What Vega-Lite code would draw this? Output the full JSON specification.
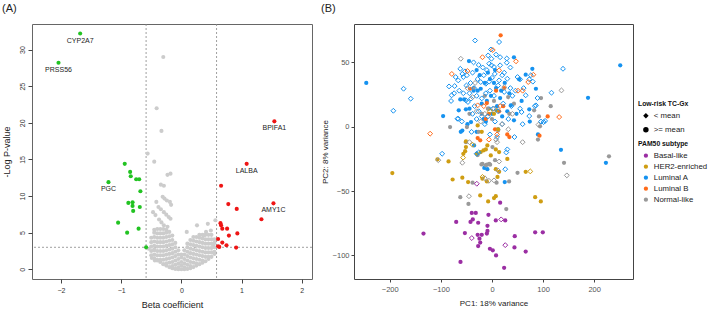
{
"$schema": "https://vega.github.io/schema/vega-lite/v6.json",
"padding": {"left": 1, "top": 2, "right": 0, "bottom": 0},
"spacing": 7,
"config": {
 "font": "Liberation Sans",
 "view": {"stroke": "#555", "strokeWidth": 1},
 "axis": {"grid": false, "domain": false, "tickColor": "#444", "labelColor": "#333", "titleColor": "#222", "titleFontWeight": "normal"},
 "title": {"fontWeight": "normal", "fontSize": 11, "anchor": "start", "frame": "bounds", "color": "#222", "offset": 10},
 "legend": {"titleFontSize": 6.8, "titleFontWeight": "bold", "titleColor": "#111", "labelFontSize": 7.8, "labelColor": "#222", "rowPadding": 2, "titlePadding": 4, "padding": 0, "labelOffset": 4, "symbolOffset": 4}
},
"resolve": {"scale": {"color": "independent", "shape": "independent"}, "legend": {"color": "independent", "shape": "independent"}},
"datasets": {
 "volcano": [
  {"b":-0.50,"p":1.9,"s":"ns"},{"b":-0.50,"p":2.5,"s":"ns"},{"b":-0.50,"p":3.1,"s":"ns"},{"b":-0.50,"p":3.7,"s":"ns"},{"b":-0.50,"p":4.3,"s":"ns"},
  {"b":-0.45,"p":1.5,"s":"ns"},{"b":-0.45,"p":2.0,"s":"ns"},{"b":-0.45,"p":2.6,"s":"ns"},{"b":-0.45,"p":3.2,"s":"ns"},{"b":-0.45,"p":3.8,"s":"ns"},{"b":-0.45,"p":4.4,"s":"ns"},{"b":-0.45,"p":5.0,"s":"ns"},{"b":-0.45,"p":5.4,"s":"ns"},
  {"b":-0.40,"p":1.3,"s":"ns"},{"b":-0.40,"p":1.9,"s":"ns"},{"b":-0.40,"p":2.5,"s":"ns"},{"b":-0.40,"p":3.1,"s":"ns"},{"b":-0.40,"p":3.7,"s":"ns"},{"b":-0.40,"p":4.3,"s":"ns"},{"b":-0.40,"p":4.9,"s":"ns"},{"b":-0.40,"p":5.5,"s":"ns"},
  {"b":-0.35,"p":1.0,"s":"ns"},{"b":-0.35,"p":1.3,"s":"ns"},{"b":-0.35,"p":1.9,"s":"ns"},{"b":-0.35,"p":2.5,"s":"ns"},{"b":-0.35,"p":3.1,"s":"ns"},{"b":-0.35,"p":3.7,"s":"ns"},{"b":-0.35,"p":4.3,"s":"ns"},{"b":-0.35,"p":4.9,"s":"ns"},{"b":-0.35,"p":5.5,"s":"ns"},
  {"b":-0.30,"p":0.7,"s":"ns"},{"b":-0.30,"p":1.3,"s":"ns"},{"b":-0.30,"p":1.9,"s":"ns"},{"b":-0.30,"p":2.5,"s":"ns"},{"b":-0.30,"p":3.1,"s":"ns"},{"b":-0.30,"p":3.7,"s":"ns"},{"b":-0.30,"p":4.3,"s":"ns"},{"b":-0.30,"p":4.9,"s":"ns"},{"b":-0.30,"p":5.5,"s":"ns"},
  {"b":-0.25,"p":0.5,"s":"ns"},{"b":-0.25,"p":0.8,"s":"ns"},{"b":-0.25,"p":1.4,"s":"ns"},{"b":-0.25,"p":2.0,"s":"ns"},{"b":-0.25,"p":2.6,"s":"ns"},{"b":-0.25,"p":3.2,"s":"ns"},{"b":-0.25,"p":3.8,"s":"ns"},{"b":-0.25,"p":4.4,"s":"ns"},{"b":-0.25,"p":5.0,"s":"ns"},{"b":-0.25,"p":5.4,"s":"ns"},
  {"b":-0.20,"p":0.3,"s":"ns"},{"b":-0.20,"p":0.9,"s":"ns"},{"b":-0.20,"p":1.5,"s":"ns"},{"b":-0.20,"p":2.1,"s":"ns"},{"b":-0.20,"p":2.7,"s":"ns"},{"b":-0.20,"p":3.3,"s":"ns"},{"b":-0.20,"p":3.9,"s":"ns"},{"b":-0.20,"p":4.5,"s":"ns"},{"b":-0.20,"p":5.1,"s":"ns"},
  {"b":-0.15,"p":0.15,"s":"ns"},{"b":-0.15,"p":0.45,"s":"ns"},{"b":-0.15,"p":1.0,"s":"ns"},{"b":-0.15,"p":1.6,"s":"ns"},{"b":-0.15,"p":2.2,"s":"ns"},{"b":-0.15,"p":2.8,"s":"ns"},{"b":-0.15,"p":3.4,"s":"ns"},{"b":-0.15,"p":4.0,"s":"ns"},{"b":-0.15,"p":4.6,"s":"ns"},
  {"b":-0.10,"p":0.05,"s":"ns"},{"b":-0.10,"p":0.6,"s":"ns"},{"b":-0.10,"p":1.2,"s":"ns"},{"b":-0.10,"p":1.8,"s":"ns"},{"b":-0.10,"p":2.4,"s":"ns"},{"b":-0.10,"p":3.0,"s":"ns"},{"b":-0.10,"p":3.6,"s":"ns"},
  {"b":-0.05,"p":0.0,"s":"ns"},{"b":-0.05,"p":0.25,"s":"ns"},{"b":-0.05,"p":0.8,"s":"ns"},{"b":-0.05,"p":1.4,"s":"ns"},{"b":-0.05,"p":2.0,"s":"ns"},{"b":-0.05,"p":2.6,"s":"ns"},
  {"b":0.0,"p":0.0,"s":"ns"},{"b":0.0,"p":0.5,"s":"ns"},{"b":0.0,"p":1.0,"s":"ns"},{"b":0.0,"p":1.6,"s":"ns"},{"b":0.0,"p":2.0,"s":"ns"},
  {"b":0.05,"p":0.0,"s":"ns"},{"b":0.05,"p":0.25,"s":"ns"},{"b":0.05,"p":0.8,"s":"ns"},{"b":0.05,"p":1.4,"s":"ns"},{"b":0.05,"p":2.0,"s":"ns"},{"b":0.05,"p":2.6,"s":"ns"},
  {"b":0.10,"p":0.05,"s":"ns"},{"b":0.10,"p":0.6,"s":"ns"},{"b":0.10,"p":1.2,"s":"ns"},{"b":0.10,"p":1.8,"s":"ns"},{"b":0.10,"p":2.4,"s":"ns"},{"b":0.10,"p":3.0,"s":"ns"},{"b":0.10,"p":3.5,"s":"ns"},
  {"b":0.15,"p":0.15,"s":"ns"},{"b":0.15,"p":0.45,"s":"ns"},{"b":0.15,"p":1.0,"s":"ns"},{"b":0.15,"p":1.6,"s":"ns"},{"b":0.15,"p":2.2,"s":"ns"},{"b":0.15,"p":2.8,"s":"ns"},{"b":0.15,"p":3.4,"s":"ns"},{"b":0.15,"p":4.0,"s":"ns"},
  {"b":0.20,"p":0.3,"s":"ns"},{"b":0.20,"p":0.9,"s":"ns"},{"b":0.20,"p":1.5,"s":"ns"},{"b":0.20,"p":2.1,"s":"ns"},{"b":0.20,"p":2.7,"s":"ns"},{"b":0.20,"p":3.3,"s":"ns"},{"b":0.20,"p":3.9,"s":"ns"},{"b":0.20,"p":4.4,"s":"ns"},
  {"b":0.25,"p":0.5,"s":"ns"},{"b":0.25,"p":0.8,"s":"ns"},{"b":0.25,"p":1.4,"s":"ns"},{"b":0.25,"p":2.0,"s":"ns"},{"b":0.25,"p":2.6,"s":"ns"},{"b":0.25,"p":3.2,"s":"ns"},{"b":0.25,"p":3.8,"s":"ns"},{"b":0.25,"p":4.4,"s":"ns"},
  {"b":0.30,"p":0.7,"s":"ns"},{"b":0.30,"p":1.3,"s":"ns"},{"b":0.30,"p":1.9,"s":"ns"},{"b":0.30,"p":2.5,"s":"ns"},{"b":0.30,"p":3.1,"s":"ns"},{"b":0.30,"p":3.7,"s":"ns"},{"b":0.30,"p":4.3,"s":"ns"},{"b":0.30,"p":4.7,"s":"ns"},
  {"b":0.35,"p":0.9,"s":"ns"},{"b":0.35,"p":1.2,"s":"ns"},{"b":0.35,"p":1.8,"s":"ns"},{"b":0.35,"p":2.4,"s":"ns"},{"b":0.35,"p":3.0,"s":"ns"},{"b":0.35,"p":3.6,"s":"ns"},{"b":0.35,"p":4.2,"s":"ns"},{"b":0.35,"p":4.7,"s":"ns"},
  {"b":0.40,"p":1.1,"s":"ns"},{"b":0.40,"p":1.7,"s":"ns"},{"b":0.40,"p":2.3,"s":"ns"},{"b":0.40,"p":2.9,"s":"ns"},{"b":0.40,"p":3.5,"s":"ns"},{"b":0.40,"p":4.1,"s":"ns"},{"b":0.40,"p":4.7,"s":"ns"},
  {"b":0.45,"p":1.4,"s":"ns"},{"b":0.45,"p":1.7,"s":"ns"},{"b":0.45,"p":2.3,"s":"ns"},{"b":0.45,"p":2.9,"s":"ns"},{"b":0.45,"p":3.5,"s":"ns"},{"b":0.45,"p":4.1,"s":"ns"},{"b":0.45,"p":4.7,"s":"ns"},
  {"b":0.50,"p":1.7,"s":"ns"},{"b":0.50,"p":2.3,"s":"ns"},{"b":0.50,"p":2.9,"s":"ns"},{"b":0.50,"p":3.5,"s":"ns"},{"b":0.50,"p":4.1,"s":"ns"},{"b":0.50,"p":4.7,"s":"ns"},
  {"b":0.55,"p":2.1,"s":"ns"},{"b":0.55,"p":2.4,"s":"ns"},{"b":0.55,"p":3.0,"s":"ns"},{"b":0.55,"p":3.6,"s":"ns"},{"b":0.55,"p":4.1,"s":"ns"},
  {"b":-0.30,"p":29.0,"s":"ns"},{"b":-0.41,"p":22.0,"s":"ns"},{"b":-0.33,"p":18.9,"s":"ns"},{"b":-0.56,"p":15.8,"s":"ns"},{"b":-0.45,"p":14.7,"s":"ns"},
  {"b":-0.23,"p":12.9,"s":"ns"},{"b":-0.18,"p":13.06,"s":"ns"},{"b":-0.34,"p":11.56,"s":"ns"},{"b":-0.29,"p":11.4,"s":"ns"},{"b":-0.31,"p":9.9,"s":"ns"},
  {"b":-0.28,"p":9.65,"s":"ns"},{"b":-0.24,"p":9.4,"s":"ns"},{"b":-0.19,"p":9.2,"s":"ns"},{"b":-0.17,"p":8.8,"s":"ns"},{"b":-0.415,"p":9.2,"s":"ns"},
  {"b":-0.38,"p":8.5,"s":"ns"},{"b":-0.34,"p":8.2,"s":"ns"},{"b":-0.29,"p":7.8,"s":"ns"},{"b":-0.25,"p":7.46,"s":"ns"},{"b":-0.21,"p":7.14,"s":"ns"},
  {"b":-0.18,"p":6.9,"s":"ns"},{"b":-0.47,"p":7.8,"s":"ns"},{"b":-0.43,"p":7.4,"s":"ns"},{"b":-0.37,"p":6.8,"s":"ns"},{"b":-0.33,"p":6.4,"s":"ns"},
  {"b":-0.29,"p":6.0,"s":"ns"},{"b":-0.23,"p":5.8,"s":"ns"},{"b":0.26,"p":6.0,"s":"ns"},{"b":0.44,"p":6.2,"s":"ns"},{"b":0.565,"p":6.7,"s":"ns"},
  {"b":0.49,"p":5.3,"s":"ns"},{"b":0.41,"p":5.1,"s":"ns"},{"b":-0.49,"p":1.54,"s":"ns"},{"b":-0.40,"p":1.2,"s":"ns"},{"b":-0.54,"p":2.8,"s":"ns"},
  {"b":-0.45,"p":2.7,"s":"ns"},{"b":0.53,"p":3.3,"s":"ns"},{"b":-0.44,"p":1.2,"s":"ns"},{"b":0.09,"p":5.1,"s":"ns"},{"b":0.37,"p":4.6,"s":"ns"},
  {"b":-1.68,"p":32.2,"s":"dn","lab":"CYP2A7"},{"b":-2.04,"p":28.2,"s":"dn","lab":"PRSS56"},{"b":-1.21,"p":11.9,"s":"dn","lab":"PGC"},
  {"b":-0.94,"p":14.4,"s":"dn"},{"b":-0.85,"p":13.3,"s":"dn"},{"b":-0.84,"p":12.7,"s":"dn"},{"b":-0.75,"p":12.3,"s":"dn"},{"b":-0.70,"p":12.3,"s":"dn"},
  {"b":-0.68,"p":10.65,"s":"dn"},{"b":-0.88,"p":9.06,"s":"dn"},{"b":-0.81,"p":9.15,"s":"dn"},{"b":-0.81,"p":8.65,"s":"dn"},{"b":-0.80,"p":7.97,"s":"dn"},
  {"b":-0.69,"p":8.5,"s":"dn"},{"b":-1.05,"p":6.37,"s":"dn"},{"b":-0.71,"p":5.55,"s":"dn"},{"b":-0.90,"p":5.0,"s":"dn"},{"b":-0.585,"p":3.0,"s":"dn"},
  {"b":1.545,"p":20.2,"s":"up","lab":"BPIFA1"},{"b":1.085,"p":14.4,"s":"up","lab":"LALBA"},{"b":1.53,"p":9.0,"s":"up","lab":"AMY1C"},
  {"b":1.33,"p":6.83,"s":"up"},{"b":0.66,"p":11.4,"s":"up"},{"b":0.78,"p":8.9,"s":"up"},{"b":0.92,"p":8.24,"s":"up"},{"b":0.65,"p":6.3,"s":"up"},
  {"b":0.66,"p":6.0,"s":"up"},{"b":0.68,"p":5.55,"s":"up"},{"b":0.76,"p":5.55,"s":"up"},{"b":0.93,"p":4.9,"s":"up"},{"b":0.79,"p":4.6,"s":"up"},
  {"b":0.61,"p":4.14,"s":"up"},{"b":0.68,"p":3.64,"s":"up"},{"b":0.75,"p":3.28,"s":"up"},{"b":0.61,"p":3.14,"s":"up"},{"b":0.91,"p":2.96,"s":"up"},{"b":0.63,"p":3.05,"s":"up"}
 ],
 "cut": [{"b": -0.585}, {"b": 0.585}],
 "cutp": [{"p": 3}],
 "pca": [
  {"x":-246,"y":34,"t":"Luminal A","r":">= mean"},{"x":251,"y":47.7,"t":"Luminal A","r":">= mean"},{"x":188,"y":22.5,"t":"Luminal A","r":">= mean"},{"x":135,"y":-17.9,"t":"Luminal A","r":">= mean"},{"x":223,"y":-28,"t":"Luminal A","r":">= mean"},
  {"x":43,"y":53.9,"t":"Luminal A","r":">= mean"},{"x":-45,"y":51,"t":"Luminal A","r":">= mean"},{"x":79,"y":45,"t":"Luminal A","r":">= mean"},{"x":66,"y":40.4,"t":"Luminal A","r":">= mean"},{"x":86,"y":29.5,"t":"Luminal A","r":">= mean"},
  {"x":53,"y":36.8,"t":"Luminal A","r":">= mean"},{"x":37,"y":16.6,"t":"Luminal A","r":">= mean"},{"x":73,"y":13.5,"t":"Luminal A","r":">= mean"},{"x":16,"y":22.3,"t":"Luminal A","r":">= mean"},{"x":43,"y":5,"t":"Luminal A","r":">= mean"},
  {"x":-95.6,"y":8.3,"t":"Luminal A","r":">= mean"},{"x":-65,"y":12.7,"t":"Luminal A","r":">= mean"},{"x":-54.5,"y":21.2,"t":"Luminal A","r":">= mean"},{"x":-62,"y":21.2,"t":"Luminal A","r":">= mean"},{"x":-51,"y":13.5,"t":"Luminal A","r":">= mean"},
  {"x":-22,"y":29.5,"t":"Luminal A","r":">= mean"},{"x":-41,"y":3.6,"t":"Luminal A","r":">= mean"},{"x":-61,"y":-4,"t":"Luminal A","r":">= mean"},{"x":-58,"y":-3,"t":"Luminal A","r":">= mean"},{"x":-35,"y":-14.5,"t":"Luminal A","r":">= mean"},
  {"x":-15,"y":-32,"t":"Luminal A","r":">= mean"},{"x":-9,"y":-33,"t":"Luminal A","r":">= mean"},{"x":25,"y":-43,"t":"Luminal A","r":">= mean"},{"x":-24,"y":40,"t":"Luminal A","r":">= mean"},{"x":-14,"y":34,"t":"Luminal A","r":">= mean"},
  {"x":-4,"y":37,"t":"Luminal A","r":">= mean"},{"x":8,"y":30,"t":"Luminal A","r":">= mean"},{"x":-10,"y":20,"t":"Luminal A","r":">= mean"},{"x":-20,"y":18,"t":"Luminal A","r":">= mean"},{"x":-28,"y":28,"t":"Luminal A","r":">= mean"},
  {"x":-16,"y":6,"t":"Luminal A","r":">= mean"},{"x":0,"y":10,"t":"Luminal A","r":">= mean"},{"x":10,"y":16,"t":"Luminal A","r":">= mean"},{"x":18,"y":28,"t":"Luminal A","r":">= mean"},{"x":-2,"y":24,"t":"Luminal A","r":">= mean"},
  {"x":-6,"y":14,"t":"Luminal A","r":">= mean"},{"x":-36,"y":28,"t":"Luminal A","r":">= mean"},{"x":-44,"y":14,"t":"Luminal A","r":">= mean"},{"x":4,"y":34,"t":"Luminal A","r":">= mean"},{"x":-48,"y":2,"t":"Luminal A","r":">= mean"},
  {"x":-30,"y":-4,"t":"Luminal A","r":">= mean"},{"x":20,"y":8,"t":"Luminal A","r":">= mean"},{"x":30,"y":12,"t":"Luminal A","r":">= mean"},{"x":25,"y":34,"t":"Luminal A","r":">= mean"},{"x":6,"y":44,"t":"Luminal A","r":">= mean"},
  {"x":-8,"y":42,"t":"Luminal A","r":">= mean"},{"x":-30,"y":44,"t":"Luminal A","r":">= mean"},{"x":58,"y":20,"t":"Luminal A","r":">= mean"},{"x":48,"y":10,"t":"Luminal A","r":">= mean"},{"x":-12,"y":4,"t":"Luminal A","r":">= mean"},
  {"x":12,"y":-2,"t":"Luminal A","r":">= mean"},{"x":34,"y":26,"t":"Luminal A","r":">= mean"},{"x":74,"y":4,"t":"Luminal A","r":">= mean"},{"x":90,"y":-6,"t":"Luminal A","r":">= mean"},
  {"x":-33,"y":67,"t":"Luminal A","r":"< mean"},{"x":14,"y":65.8,"t":"Luminal A","r":"< mean"},{"x":-7.5,"y":55.4,"t":"Luminal A","r":"< mean"},{"x":-1,"y":52.8,"t":"Luminal A","r":"< mean"},{"x":16,"y":54,"t":"Luminal A","r":"< mean"},
  {"x":29,"y":53,"t":"Luminal A","r":"< mean"},{"x":29,"y":49.7,"t":"Luminal A","r":"< mean"},{"x":-5.5,"y":49,"t":"Luminal A","r":"< mean"},{"x":-1,"y":47.7,"t":"Luminal A","r":"< mean"},{"x":4,"y":46.4,"t":"Luminal A","r":"< mean"},
  {"x":16,"y":47.7,"t":"Luminal A","r":"< mean"},{"x":5.5,"y":41,"t":"Luminal A","r":"< mean"},{"x":76,"y":40,"t":"Luminal A","r":"< mean"},{"x":73,"y":36.8,"t":"Luminal A","r":"< mean"},{"x":50,"y":38.6,"t":"Luminal A","r":"< mean"},
  {"x":55,"y":36.8,"t":"Luminal A","r":"< mean"},{"x":30,"y":37.3,"t":"Luminal A","r":"< mean"},{"x":139,"y":45,"t":"Luminal A","r":"< mean"},{"x":116.5,"y":26.4,"t":"Luminal A","r":"< mean"},{"x":89,"y":22.3,"t":"Luminal A","r":"< mean"},
  {"x":66,"y":24.4,"t":"Luminal A","r":"< mean"},{"x":24,"y":27,"t":"Luminal A","r":"< mean"},{"x":55,"y":14,"t":"Luminal A","r":"< mean"},{"x":58,"y":11.4,"t":"Luminal A","r":"< mean"},{"x":86,"y":16.6,"t":"Luminal A","r":"< mean"},
  {"x":101,"y":3.6,"t":"Luminal A","r":"< mean"},{"x":104,"y":4.5,"t":"Luminal A","r":"< mean"},{"x":73,"y":8.3,"t":"Luminal A","r":"< mean"},{"x":-62,"y":45,"t":"Luminal A","r":"< mean"},{"x":-58,"y":41,"t":"Luminal A","r":"< mean"},
  {"x":-53,"y":43,"t":"Luminal A","r":"< mean"},{"x":-49,"y":40,"t":"Luminal A","r":"< mean"},{"x":-56,"y":38.6,"t":"Luminal A","r":"< mean"},{"x":-71,"y":38.6,"t":"Luminal A","r":"< mean"},{"x":-66,"y":36,"t":"Luminal A","r":"< mean"},
  {"x":-84,"y":31.3,"t":"Luminal A","r":"< mean"},{"x":-73,"y":31.6,"t":"Luminal A","r":"< mean"},{"x":-74,"y":26,"t":"Luminal A","r":"< mean"},{"x":-79,"y":24.4,"t":"Luminal A","r":"< mean"},{"x":-173,"y":29.5,"t":"Luminal A","r":"< mean"},
  {"x":-159,"y":21.8,"t":"Luminal A","r":"< mean"},{"x":-193,"y":12.4,"t":"Luminal A","r":"< mean"},{"x":-66,"y":6.2,"t":"Luminal A","r":"< mean"},{"x":-59,"y":4.1,"t":"Luminal A","r":"< mean"},{"x":-51,"y":20.5,"t":"Luminal A","r":"< mean"},
  {"x":-47,"y":19.2,"t":"Luminal A","r":"< mean"},{"x":-41,"y":21.8,"t":"Luminal A","r":"< mean"},{"x":-28,"y":37,"t":"Luminal A","r":"< mean"},{"x":-22,"y":34.7,"t":"Luminal A","r":"< mean"},{"x":-12,"y":33.4,"t":"Luminal A","r":"< mean"},
  {"x":-5.5,"y":35,"t":"Luminal A","r":"< mean"},{"x":-97.5,"y":-21,"t":"Luminal A","r":"< mean"},{"x":-67.5,"y":6.2,"t":"Luminal A","r":"< mean"},{"x":-30,"y":-21,"t":"Luminal A","r":"< mean"},{"x":-26,"y":-20,"t":"Luminal A","r":"< mean"},
  {"x":30,"y":-17.6,"t":"Luminal A","r":"< mean"},{"x":-38,"y":42,"t":"Luminal A","r":"< mean"},{"x":-42,"y":34,"t":"Luminal A","r":"< mean"},{"x":-35,"y":30,"t":"Luminal A","r":"< mean"},{"x":-30,"y":24,"t":"Luminal A","r":"< mean"},
  {"x":-20,"y":22,"t":"Luminal A","r":"< mean"},{"x":-12,"y":26,"t":"Luminal A","r":"< mean"},{"x":-4,"y":28,"t":"Luminal A","r":"< mean"},{"x":4,"y":24,"t":"Luminal A","r":"< mean"},{"x":12,"y":32,"t":"Luminal A","r":"< mean"},
  {"x":20,"y":40,"t":"Luminal A","r":"< mean"},{"x":22,"y":18,"t":"Luminal A","r":"< mean"},{"x":36,"y":30,"t":"Luminal A","r":"< mean"},{"x":40,"y":24,"t":"Luminal A","r":"< mean"},{"x":46,"y":28,"t":"Luminal A","r":"< mean"},
  {"x":-26,"y":12,"t":"Luminal A","r":"< mean"},{"x":-20,"y":8,"t":"Luminal A","r":"< mean"},{"x":-8,"y":8,"t":"Luminal A","r":"< mean"},{"x":2,"y":14,"t":"Luminal A","r":"< mean"},{"x":12,"y":12,"t":"Luminal A","r":"< mean"},
  {"x":-34,"y":16,"t":"Luminal A","r":"< mean"},{"x":-44,"y":26,"t":"Luminal A","r":"< mean"},{"x":-10,"y":44,"t":"Luminal A","r":"< mean"},{"x":-18,"y":46,"t":"Luminal A","r":"< mean"},{"x":-26,"y":48,"t":"Luminal A","r":"< mean"},
  {"x":8,"y":56,"t":"Luminal A","r":"< mean"},{"x":24,"y":42,"t":"Luminal A","r":"< mean"},{"x":36,"y":46,"t":"Luminal A","r":"< mean"},{"x":62,"y":30,"t":"Luminal A","r":"< mean"},{"x":80,"y":35,"t":"Luminal A","r":"< mean"},
  {"x":-14,"y":2,"t":"Luminal A","r":"< mean"},{"x":6,"y":4,"t":"Luminal A","r":"< mean"},{"x":20,"y":2,"t":"Luminal A","r":"< mean"},{"x":32,"y":6,"t":"Luminal A","r":"< mean"},{"x":44,"y":-8,"t":"Luminal A","r":"< mean"},
  {"x":28,"y":-20,"t":"Luminal A","r":"< mean"},{"x":-40,"y":-4,"t":"Luminal A","r":"< mean"},{"x":-4,"y":-6,"t":"Luminal A","r":"< mean"},{"x":10,"y":-8,"t":"Luminal A","r":"< mean"},{"x":84,"y":16,"t":"Luminal A","r":"< mean"},
  {"x":96,"y":4,"t":"Luminal A","r":"< mean"},{"x":-80,"y":20,"t":"Luminal A","r":"< mean"},{"x":-56,"y":26,"t":"Luminal A","r":"< mean"},{"x":-64,"y":28,"t":"Luminal A","r":"< mean"},{"x":-50,"y":32,"t":"Luminal A","r":"< mean"},
  {"x":-36,"y":50,"t":"Luminal A","r":"< mean"},{"x":-16,"y":40,"t":"Luminal A","r":"< mean"},{"x":0,"y":38,"t":"Luminal A","r":"< mean"},{"x":14,"y":36,"t":"Luminal A","r":"< mean"},{"x":-38,"y":10,"t":"Luminal A","r":"< mean"},
  {"x":-30,"y":6,"t":"Luminal A","r":"< mean"},{"x":60,"y":2,"t":"Luminal A","r":"< mean"},{"x":-2,"y":60,"t":"Luminal A","r":"< mean"},{"x":38,"y":16,"t":"Luminal A","r":"< mean"},{"x":26,"y":-33,"t":"Luminal A","r":"< mean"},
  {"x":17,"y":71,"t":"Luminal B","r":">= mean"},{"x":109,"y":8,"t":"Luminal B","r":">= mean"},{"x":-28,"y":-8.8,"t":"Luminal B","r":">= mean"},{"x":-23,"y":-10.6,"t":"Luminal B","r":">= mean"},{"x":-43,"y":29.5,"t":"Luminal B","r":">= mean"},
  {"x":-10,"y":18.4,"t":"Luminal B","r":">= mean"},{"x":24,"y":30,"t":"Luminal B","r":">= mean"},{"x":8,"y":28,"t":"Luminal B","r":">= mean"},{"x":34,"y":-8,"t":"Luminal B","r":">= mean"},{"x":30,"y":-6,"t":"Luminal B","r":">= mean"},
  {"x":93,"y":-7,"t":"Luminal B","r":">= mean"},{"x":-12,"y":6,"t":"Luminal B","r":">= mean"},{"x":6,"y":-2,"t":"Luminal B","r":">= mean"},{"x":14,"y":12,"t":"Luminal B","r":">= mean"},{"x":-6,"y":10,"t":"Luminal B","r":">= mean"},{"x":22,"y":16,"t":"Luminal B","r":">= mean"},
  {"x":1.6,"y":59.6,"t":"Luminal B","r":"< mean"},{"x":-18.6,"y":54,"t":"Luminal B","r":"< mean"},{"x":47,"y":50.8,"t":"Luminal B","r":"< mean"},{"x":14,"y":43.8,"t":"Luminal B","r":"< mean"},{"x":81,"y":40.4,"t":"Luminal B","r":"< mean"},
  {"x":71,"y":34.7,"t":"Luminal B","r":"< mean"},{"x":51,"y":28,"t":"Luminal B","r":"< mean"},{"x":-78.6,"y":41,"t":"Luminal B","r":"< mean"},{"x":-48,"y":43.3,"t":"Luminal B","r":"< mean"},{"x":-28,"y":16.6,"t":"Luminal B","r":"< mean"},
  {"x":131.5,"y":7.5,"t":"Luminal B","r":"< mean"},{"x":-121,"y":-5.4,"t":"Luminal B","r":"< mean"},{"x":-6,"y":-10,"t":"Luminal B","r":"< mean"},{"x":10,"y":-6,"t":"Luminal B","r":"< mean"},{"x":60,"y":28,"t":"Luminal B","r":"< mean"},
  {"x":16,"y":16,"t":"Luminal B","r":"< mean"},{"x":-16,"y":16,"t":"Luminal B","r":"< mean"},
  {"x":-82,"y":-0.3,"t":"Normal-like","r":">= mean"},{"x":96,"y":22.3,"t":"Normal-like","r":">= mean"},{"x":31.7,"y":23,"t":"Normal-like","r":">= mean"},{"x":82.5,"y":12.7,"t":"Normal-like","r":">= mean"},{"x":115,"y":16,"t":"Normal-like","r":">= mean"},
  {"x":92,"y":8,"t":"Normal-like","r":">= mean"},{"x":43,"y":17.9,"t":"Normal-like","r":">= mean"},{"x":141,"y":-28,"t":"Normal-like","r":">= mean"},{"x":229,"y":-23,"t":"Normal-like","r":">= mean"},{"x":50,"y":-35.8,"t":"Normal-like","r":">= mean"},
  {"x":-62,"y":-54.7,"t":"Normal-like","r":">= mean"},{"x":-46,"y":-60,"t":"Normal-like","r":">= mean"},{"x":28,"y":-64,"t":"Normal-like","r":">= mean"},{"x":-38,"y":-43.5,"t":"Normal-like","r":">= mean"},{"x":9,"y":-43.5,"t":"Normal-like","r":">= mean"},
  {"x":33.5,"y":-42.5,"t":"Normal-like","r":">= mean"},{"x":-10,"y":-29.5,"t":"Normal-like","r":">= mean"},{"x":-3.6,"y":-29.5,"t":"Normal-like","r":">= mean"},{"x":-20.6,"y":-29.3,"t":"Normal-like","r":">= mean"},{"x":1,"y":-15.8,"t":"Normal-like","r":">= mean"},
  {"x":12,"y":-3,"t":"Normal-like","r":">= mean"},{"x":-51,"y":-12,"t":"Normal-like","r":">= mean"},{"x":-28,"y":-22,"t":"Normal-like","r":">= mean"},{"x":-18.6,"y":-28.8,"t":"Normal-like","r":">= mean"},{"x":-12,"y":-30,"t":"Normal-like","r":">= mean"},
  {"x":-5.5,"y":-28.8,"t":"Normal-like","r":">= mean"},{"x":94,"y":0.3,"t":"Normal-like","r":">= mean"},{"x":90,"y":-10,"t":"Normal-like","r":">= mean"},{"x":-49,"y":-0.3,"t":"Normal-like","r":">= mean"},{"x":0,"y":6,"t":"Normal-like","r":">= mean"},
  {"x":-8,"y":14,"t":"Normal-like","r":">= mean"},{"x":-20,"y":10,"t":"Normal-like","r":">= mean"},{"x":-36,"y":30,"t":"Normal-like","r":">= mean"},{"x":-44,"y":10,"t":"Normal-like","r":">= mean"},{"x":34,"y":10,"t":"Normal-like","r":">= mean"},
  {"x":-26,"y":-4,"t":"Normal-like","r":">= mean"},{"x":4,"y":20,"t":"Normal-like","r":">= mean"},{"x":-14,"y":24,"t":"Normal-like","r":">= mean"},{"x":6,"y":-26,"t":"Normal-like","r":">= mean"},
  {"x":-61,"y":52.8,"t":"Normal-like","r":"< mean"},{"x":-38,"y":23,"t":"Normal-like","r":"< mean"},{"x":136,"y":28.2,"t":"Normal-like","r":"< mean"},{"x":146.5,"y":-37.8,"t":"Normal-like","r":"< mean"},{"x":60,"y":-12,"t":"Normal-like","r":"< mean"},
  {"x":-58,"y":-28,"t":"Normal-like","r":"< mean"},{"x":-45,"y":-54,"t":"Normal-like","r":"< mean"},{"x":4,"y":-41.7,"t":"Normal-like","r":"< mean"},{"x":14,"y":-27,"t":"Normal-like","r":"< mean"},{"x":24,"y":30.8,"t":"Normal-like","r":"< mean"},
  {"x":91,"y":1.6,"t":"Normal-like","r":"< mean"},{"x":-105,"y":-26,"t":"Normal-like","r":"< mean"},{"x":-14,"y":-40,"t":"Normal-like","r":"< mean"},{"x":8,"y":-10,"t":"Normal-like","r":"< mean"},{"x":32,"y":-2,"t":"Normal-like","r":"< mean"},
  {"x":-22,"y":4,"t":"Normal-like","r":"< mean"},{"x":-14,"y":10,"t":"Normal-like","r":"< mean"},{"x":4,"y":14,"t":"Normal-like","r":"< mean"},{"x":40,"y":10,"t":"Normal-like","r":"< mean"},{"x":20,"y":2,"t":"Normal-like","r":"< mean"},
  {"x":-33,"y":34,"t":"Normal-like","r":"< mean"},{"x":-48,"y":30,"t":"Normal-like","r":"< mean"},{"x":10,"y":-12,"t":"Normal-like","r":"< mean"},{"x":12,"y":-34,"t":"Normal-like","r":"< mean"},{"x":-6,"y":-42,"t":"Normal-like","r":"< mean"},
  {"x":-44,"y":-12,"t":"Normal-like","r":"< mean"},{"x":-30,"y":12,"t":"Normal-like","r":"< mean"},
  {"x":-195,"y":-36,"t":"HER2-enriched","r":">= mean"},{"x":-106.7,"y":-25.4,"t":"HER2-enriched","r":">= mean"},{"x":-85,"y":-27,"t":"HER2-enriched","r":">= mean"},{"x":-77,"y":-41,"t":"HER2-enriched","r":">= mean"},{"x":-58,"y":-39.6,"t":"HER2-enriched","r":">= mean"},
  {"x":-46.7,"y":-43,"t":"HER2-enriched","r":">= mean"},{"x":-23,"y":-53.4,"t":"HER2-enriched","r":">= mean"},{"x":-7.5,"y":-58,"t":"HER2-enriched","r":">= mean"},{"x":4,"y":-55.4,"t":"HER2-enriched","r":">= mean"},{"x":7.5,"y":-54,"t":"HER2-enriched","r":">= mean"},
  {"x":84.5,"y":-54.7,"t":"HER2-enriched","r":">= mean"},{"x":95.6,"y":-58,"t":"HER2-enriched","r":">= mean"},{"x":66,"y":-35,"t":"HER2-enriched","r":">= mean"},{"x":-51,"y":-15.8,"t":"HER2-enriched","r":">= mean"},{"x":-52.5,"y":-19,"t":"HER2-enriched","r":">= mean"},
  {"x":-51,"y":-11.4,"t":"HER2-enriched","r":">= mean"},{"x":-29.7,"y":-21,"t":"HER2-enriched","r":">= mean"},{"x":-22,"y":-19.7,"t":"HER2-enriched","r":">= mean"},{"x":-16.6,"y":-18.4,"t":"HER2-enriched","r":">= mean"},{"x":-12,"y":-17.6,"t":"HER2-enriched","r":">= mean"},
  {"x":-9,"y":-14.5,"t":"HER2-enriched","r":">= mean"},{"x":-2.3,"y":-22.3,"t":"HER2-enriched","r":">= mean"},{"x":7.5,"y":-17.6,"t":"HER2-enriched","r":">= mean"},{"x":7.5,"y":-33,"t":"HER2-enriched","r":">= mean"},{"x":14,"y":-35,"t":"HER2-enriched","r":">= mean"},
  {"x":10.8,"y":-39,"t":"HER2-enriched","r":">= mean"},{"x":30,"y":-25,"t":"HER2-enriched","r":">= mean"},{"x":14,"y":-19.7,"t":"HER2-enriched","r":">= mean"},{"x":-18.6,"y":-40.4,"t":"HER2-enriched","r":">= mean"},{"x":-10,"y":-42.5,"t":"HER2-enriched","r":">= mean"},
  {"x":9,"y":12.7,"t":"HER2-enriched","r":">= mean"},{"x":4,"y":10,"t":"HER2-enriched","r":">= mean"},{"x":-28,"y":1,"t":"HER2-enriched","r":">= mean"},{"x":-20,"y":-4,"t":"HER2-enriched","r":">= mean"},{"x":12,"y":-2,"t":"HER2-enriched","r":">= mean"},{"x":-56,"y":-21,"t":"HER2-enriched","r":">= mean"},
  {"x":75,"y":-34.7,"t":"HER2-enriched","r":"< mean"},{"x":-56.5,"y":-24,"t":"HER2-enriched","r":"< mean"},{"x":-18.6,"y":-39,"t":"HER2-enriched","r":"< mean"},{"x":-38,"y":-14,"t":"HER2-enriched","r":"< mean"},{"x":-4,"y":12,"t":"HER2-enriched","r":"< mean"},
  {"x":16,"y":-59,"t":"Basal-like","r":">= mean"},{"x":-39.5,"y":-67,"t":"Basal-like","r":">= mean"},{"x":-31.7,"y":-67,"t":"Basal-like","r":">= mean"},{"x":-6.9,"y":-68.4,"t":"Basal-like","r":">= mean"},{"x":-37.5,"y":-72,"t":"Basal-like","r":">= mean"},
  {"x":-42,"y":-74,"t":"Basal-like","r":">= mean"},{"x":-27,"y":-74.6,"t":"Basal-like","r":">= mean"},{"x":7.5,"y":-72.8,"t":"Basal-like","r":">= mean"},{"x":26,"y":-72.8,"t":"Basal-like","r":">= mean"},{"x":-70,"y":-74,"t":"Basal-like","r":">= mean"},
  {"x":-8.8,"y":-77,"t":"Basal-like","r":">= mean"},{"x":-8.8,"y":-81,"t":"Basal-like","r":">= mean"},{"x":-53,"y":-82.6,"t":"Basal-like","r":">= mean"},{"x":-28,"y":-84,"t":"Basal-like","r":">= mean"},{"x":-20,"y":-84,"t":"Basal-like","r":">= mean"},
  {"x":-10,"y":-83,"t":"Basal-like","r":">= mean"},{"x":-24.5,"y":-87,"t":"Basal-like","r":">= mean"},{"x":-23,"y":-90,"t":"Basal-like","r":">= mean"},{"x":-27,"y":-92.7,"t":"Basal-like","r":">= mean"},{"x":-4,"y":-94.8,"t":"Basal-like","r":">= mean"},
  {"x":1.6,"y":-96,"t":"Basal-like","r":">= mean"},{"x":8,"y":-100,"t":"Basal-like","r":">= mean"},{"x":44.6,"y":-85,"t":"Basal-like","r":">= mean"},{"x":44,"y":-93.8,"t":"Basal-like","r":">= mean"},{"x":66,"y":-97,"t":"Basal-like","r":">= mean"},
  {"x":84.5,"y":-82,"t":"Basal-like","r":">= mean"},{"x":99.5,"y":-82,"t":"Basal-like","r":">= mean"},{"x":-61.6,"y":-105,"t":"Basal-like","r":">= mean"},{"x":23.8,"y":-109.6,"t":"Basal-like","r":">= mean"},{"x":-134,"y":-83,"t":"Basal-like","r":">= mean"},
  {"x":18,"y":-72,"t":"Basal-like","r":"< mean"},{"x":-39.5,"y":-86.5,"t":"Basal-like","r":"< mean"},{"x":26,"y":-92,"t":"Basal-like","r":"< mean"},{"x":-29.7,"y":-44.3,"t":"Basal-like","r":"< mean"}
 ]
},
"hconcat": [
 {
  "width": 280, "height": 255,
  "title": {"text": "(A)"},
  "view": {"stroke": "#666"},
  "layer": [
   {"data": {"name": "cut"}, "mark": {"type": "rule", "strokeDash": [2, 2], "color": "#888", "strokeWidth": 0.8},
    "encoding": {"x": {"field": "b", "type": "quantitative", "title": "Beta coefficient", "scale": {"domain": [-2.48, 2.17], "nice": false, "zero": false}}}},
   {"data": {"name": "cutp"}, "mark": {"type": "rule", "strokeDash": [2, 2], "color": "#888", "strokeWidth": 0.8},
    "encoding": {"y": {"field": "p", "type": "quantitative", "title": "-Log P-value", "scale": {"domain": [-1.33, 33.5], "nice": false, "zero": false}}}},
   {"data": {"name": "volcano"}, "mark": {"type": "circle", "size": 17, "opacity": 1},
    "encoding": {
     "x": {"field": "b", "type": "quantitative", "title": "Beta coefficient", "scale": {"domain": [-2.48, 2.17], "nice": false, "zero": false},
           "axis": {"values": [-2, -1, 0, 1, 2], "format": "d", "tickSize": 4, "labelFontSize": 7, "titleFontSize": 9, "labelPadding": 3, "titlePadding": 7}},
     "y": {"field": "p", "type": "quantitative", "title": "-Log P-value", "scale": {"domain": [-1.33, 33.5], "nice": false, "zero": false},
           "axis": {"values": [0, 5, 10, 15, 20, 25, 30], "format": "d", "tickSize": 4, "labelAngle": 270, "labelFontSize": 7, "titleFontSize": 9, "labelPadding": 3, "titlePadding": 7}},
     "color": {"field": "s", "type": "nominal", "scale": {"domain": ["ns", "dn", "up"], "range": ["#cccccc", "#22c322", "#ee1515"]}, "legend": null}
    }},
   {"data": {"name": "volcano"}, "transform": [{"filter": "datum.lab != null"}],
    "mark": {"type": "text", "baseline": "top", "dy": 3, "fontSize": 7, "color": "#222"},
    "encoding": {
     "x": {"field": "b", "type": "quantitative", "title": "Beta coefficient"},
     "y": {"field": "p", "type": "quantitative", "title": "-Log P-value"},
     "text": {"field": "lab", "type": "nominal"}
    }}
  ]
 },
 {
  "width": 279, "height": 255,
  "title": {"text": "(B)"},
  "view": {"stroke": "#444"},
  "data": {"name": "pca"},
  "encoding": {
   "x": {"field": "x", "type": "quantitative", "title": "PC1: 18% variance", "scale": {"domain": [-270, 276], "nice": false, "zero": false},
         "axis": {"values": [-200, -100, 0, 100, 200], "format": "d", "tickSize": 3, "labelFontSize": 7.5, "titleFontSize": 8, "labelColor": "#555", "labelPadding": 3, "titlePadding": 7}},
   "y": {"field": "y", "type": "quantitative", "title": "PC2: 8% variance", "scale": {"domain": [-118.3, 79.8], "nice": false, "zero": false},
         "axis": {"values": [-100, -50, 0, 50], "format": "d", "tickSize": 3, "labelFontSize": 7.5, "titleFontSize": 8, "labelColor": "#555", "labelPadding": 2, "titlePadding": 3}},
   "color": {"field": "t", "type": "nominal", "title": "PAM50 subtype",
     "scale": {"domain": ["Basal-like", "HER2-enriched", "Luminal A", "Luminal B", "Normal-like"], "range": ["#9b2ea3", "#cf9d12", "#1592f0", "#ff6b1a", "#999999"]},
     "legend": {"orient": "none", "legendX": 284, "legendY": 117, "symbolType": "circle", "symbolSize": 18, "symbolStrokeWidth": 0}},
   "shape": {"field": "r", "type": "nominal", "title": "Low-risk TC-Gx",
     "scale": {"domain": ["< mean", ">= mean"], "range": ["diamond", "circle"]},
     "legend": {"orient": "none", "legendX": 284, "legendY": 77, "symbolSize": 30,
       "encode": {"symbols": {
         "fill": {"value": {"expr": "datum.value === '>= mean' ? '#000' : '#fff'"}},
         "stroke": {"value": "#000"},
         "strokeWidth": {"value": {"expr": "datum.value === '>= mean' ? 0 : 1"}}}}}}
  },
  "layer": [
   {"transform": [{"filter": "datum.r === '>= mean'"}], "mark": {"type": "point", "filled": true, "size": 18, "opacity": 1, "strokeWidth": 0}},
   {"transform": [{"filter": "datum.r === '< mean'"}], "mark": {"type": "point", "filled": false, "size": 24, "opacity": 1, "strokeWidth": 1}}
  ]
 }
]
}
